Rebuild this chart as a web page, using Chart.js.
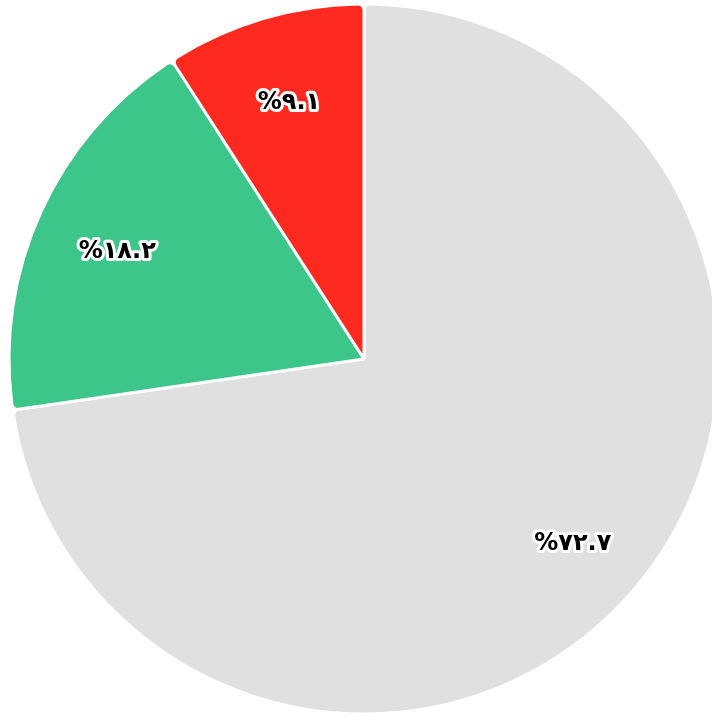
<!DOCTYPE html>
<html>
<head>
<meta charset="utf-8">
<script src="https://cdn.jsdelivr.net/npm/chart.js@4"></script>
<style>
  html, body { margin: 0; padding: 0; background: #fff; overflow: hidden; }
  #wrap { position: absolute; left: 0; top: 0; width: 728px; height: 718px; }
</style>
</head>
<body>
<div id="wrap"><canvas id="pie"></canvas></div>
<script>
const categories = ['سایر', 'گروه دوم', 'گروه اول'];
const shares = [72.7, 18.2, 9.1];
const sliceLabels = ['%۷۲.۷', '%۱۸.۲', '%۹.۱'];
const sliceColors = ['#e0e0e0', '#3cc68a', '#fe2a20'];

// draws the percentage inside each slice, black with a white outline
const sliceLabelPlugin = {
  id: 'sliceLabels',
  afterDatasetsDraw(chart) {
    const ctx = chart.ctx;
    const meta = chart.getDatasetMeta(0);
    ctx.save();
    ctx.font = 'bold 24px "DejaVu Sans", sans-serif';
    ctx.textAlign = 'center';
    ctx.textBaseline = 'middle';
    ctx.lineJoin = 'round';
    meta.data.forEach((arc, i) => {
      const p = arc.getProps(['x', 'y', 'startAngle', 'endAngle', 'outerRadius'], true);
      const mid = (p.startAngle + p.endAngle) / 2;
      const r = p.outerRadius * 0.77;
      const x = p.x + Math.cos(mid) * r + 2;
      const y = p.y + Math.sin(mid) * r + 6;
      ctx.lineWidth = 6;
      ctx.strokeStyle = '#fff';
      ctx.strokeText(sliceLabels[i], x, y);
      ctx.fillStyle = '#000';
      ctx.fillText(sliceLabels[i], x, y);
    });
    ctx.restore();
  }
};

new Chart(document.getElementById('pie'), {
  type: 'pie',
  data: {
    labels: categories,
    datasets: [{
      data: shares,
      backgroundColor: sliceColors,
      borderColor: '#fff',
      borderWidth: 3,
      borderRadius: 6
    }]
  },
  options: {
    responsive: true,
    maintainAspectRatio: false,
    animation: false,
    radius: 355,
    plugins: {
      legend: { display: false },
      tooltip: { enabled: false }
    }
  },
  plugins: [sliceLabelPlugin]
});
</script>
</body>
</html>
